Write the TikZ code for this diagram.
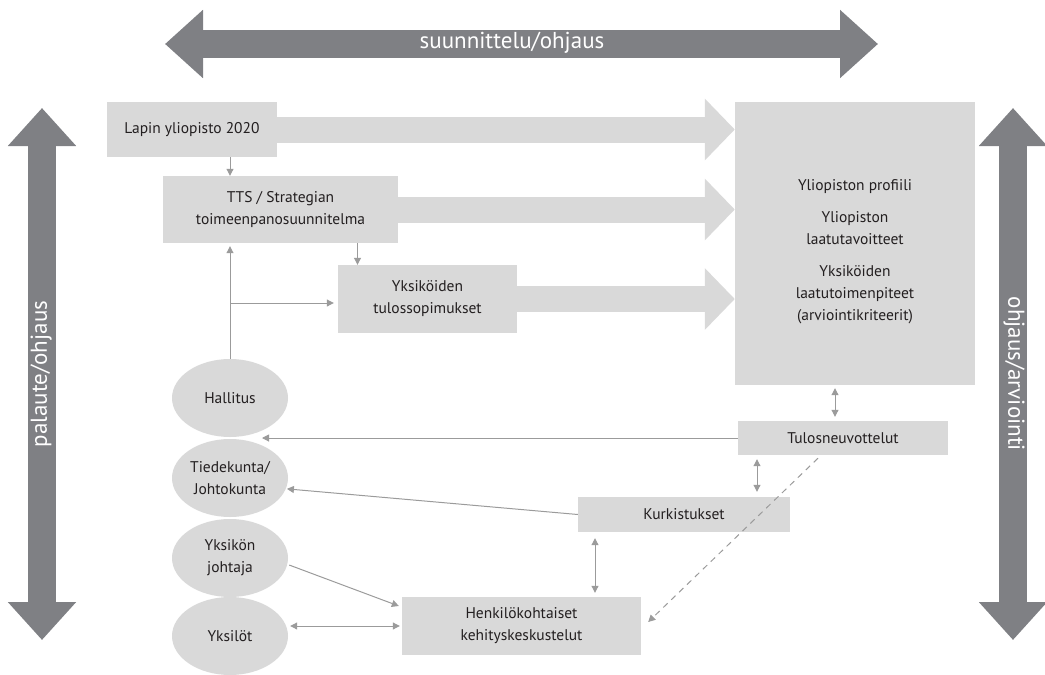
\documentclass[tikz,border=0pt]{standalone}
\usepackage{fontspec}
\setmainfont{PT Sans}
\usepackage{tikz}
\usetikzlibrary{arrows.meta,shapes.geometric}

\definecolor{boxgray}{HTML}{D9D9D9}
\definecolor{bandgray}{HTML}{7F8084}
\definecolor{linegray}{HTML}{9B9B9B}
\definecolor{txtgray}{HTML}{231F20}

\begin{document}
\begin{tikzpicture}[x=1pt, y=-1pt,
    box/.style={fill=boxgray, inner sep=0pt, align=center, text=txtgray,
        font=\fontsize{15.5}{22}\selectfont},
    oval/.style={ellipse, fill=boxgray, inner sep=0pt, minimum width=116pt,
        minimum height=78pt, align=center, text=txtgray,
        font=\fontsize{15.5}{22}\selectfont},
    bigarrow/.style={boxgray, line width=26pt, -{Triangle[width=60pt,length=30pt]}},
    band/.style={bandgray, line width=28pt,
        {Triangle[width=66pt,length=38pt]}-{Triangle[width=66pt,length=38pt]}},
    bandtext/.style={text=white, font=\fontsize{23}{26}\selectfont},
    thin/.style={linegray, line width=1pt, -{Triangle[width=7pt,length=7pt]}},
    both/.style={linegray, line width=1pt,
        {Triangle[width=7pt,length=7pt]}-{Triangle[width=7pt,length=7pt]}}
]
    \useasboundingbox (0,0) rectangle (1045,675);

    % suunta-nuolet
    \coordinate (topl) at (165,44);
    \coordinate (topr) at (878,44);
    \coordinate (lefttop) at (42,108);
    \coordinate (leftbot) at (42,640);
    \coordinate (righttop) at (1013,108);
    \coordinate (rightbot) at (1013,640);
    \draw[band] (topl) -- (topr);
    \draw[band] (lefttop) -- (leftbot);
    \draw[band] (righttop) -- (rightbot);
    \node[bandtext] (suun) at (512,43) {suunnittelu/ohjaus};
    \node[bandtext, rotate=90] (pal) at (41,374) {palaute/ohjaus};
    \node[bandtext, rotate=-90] (arv) at (1014,374) {ohjaus/arviointi};

    % laatikot
    \node[box, minimum width=170pt, minimum height=55pt] at (192,129.5) (lapin) {Lapin yliopisto 2020};
    \node[box, minimum width=235pt, minimum height=67pt] at (280.5,209.5) (tts) {TTS / Strategian\\toimeenpanosuunnitelma};
    \node[box, minimum width=179pt, minimum height=68pt] at (427.5,299) (tulos) {Yksiköiden\\tulossopimukset};
    \node[box, minimum width=240pt, minimum height=283pt] at (855,243.5) (profiili) {};
    \node[box, fill=none] at ([yshift=-8pt]profiili.center) (profiiliteksti) {Yliopiston profiili\\[10pt]Yliopiston\\laatutavoitteet\\[10pt]Yksiköiden\\laatutoimenpiteet\\(arviointikriteerit)};
    \node[box, minimum width=210pt, minimum height=34pt] at (843,438) (neuv) {Tulosneuvottelut};
    \node[box, minimum width=212pt, minimum height=35pt] at (684,514.5) (kurk) {Kurkistukset};
    \node[box, minimum width=239pt, minimum height=58pt] at (521.5,626) (henk) {Henkilökohtaiset\\kehityskeskustelut};

    % toimijat
    \node[oval] at (230,398) (hallitus) {Hallitus};
    \node[oval] at (230,478) (tiede) {Tiedekunta/\\Johtokunta};
    \node[oval] at (230,558) (johtaja) {Yksikön\\johtaja};
    \node[oval] at (230,636) (yksilot) {Yksilöt};

    % isot nuolet
    \draw[bigarrow] (lapin.east) -- (lapin.east -| profiili.west);
    \draw[bigarrow] (tts.east) -- (tts.east -| profiili.west);
    \draw[bigarrow] (tulos.east) -- (tulos.east -| profiili.west);

    % ohuet nuolet
    \draw[thin] (lapin.south -| hallitus.north) -- (tts.north -| hallitus.north);
    \draw[thin] ([xshift=-70pt]tulos.north |- tts.south) -- ([xshift=-70pt]tulos.north);
    \draw[thin] (hallitus.north) -- ([yshift=-3pt]tts.south -| hallitus.north);
    \draw[thin] ([yshift=-4pt]hallitus.north |- tulos.west) -- ([xshift=-4pt,yshift=-4pt]tulos.west);
    \coordinate (valiin) at (262,438);
    \draw[thin] (neuv.west) -- (valiin);
    \draw[thin] (kurk.west) -- ([xshift=1pt]tiede.-11);
    \draw[thin] ([xshift=2pt]johtaja.-7) -- ([xshift=-3pt,yshift=20pt]henk.west);
    \draw[both, shorten <=2pt, shorten >=2pt] (yksilot.east |- henk.west) -- (henk.west);
    \draw[both, shorten <=3pt, shorten >=4pt] ([xshift=-8pt]profiili.south -| neuv.north) -- ([xshift=-8pt]neuv.north);
    \draw[both, shorten <=4pt, shorten >=5pt] ([xshift=73pt]neuv.south -| kurk.north) -- ([xshift=73pt]kurk.north);
    \draw[both, shorten <=6pt, shorten >=4pt] ([xshift=-89pt]kurk.south) -- ([xshift=-89pt]kurk.south |- henk.north);
    \draw[thin, dashed, dash pattern=on 6pt off 5pt] ([xshift=-25pt,yshift=-3pt]neuv.south) -- ([xshift=7pt,yshift=4pt]henk.east);
\end{tikzpicture}
\end{document}
